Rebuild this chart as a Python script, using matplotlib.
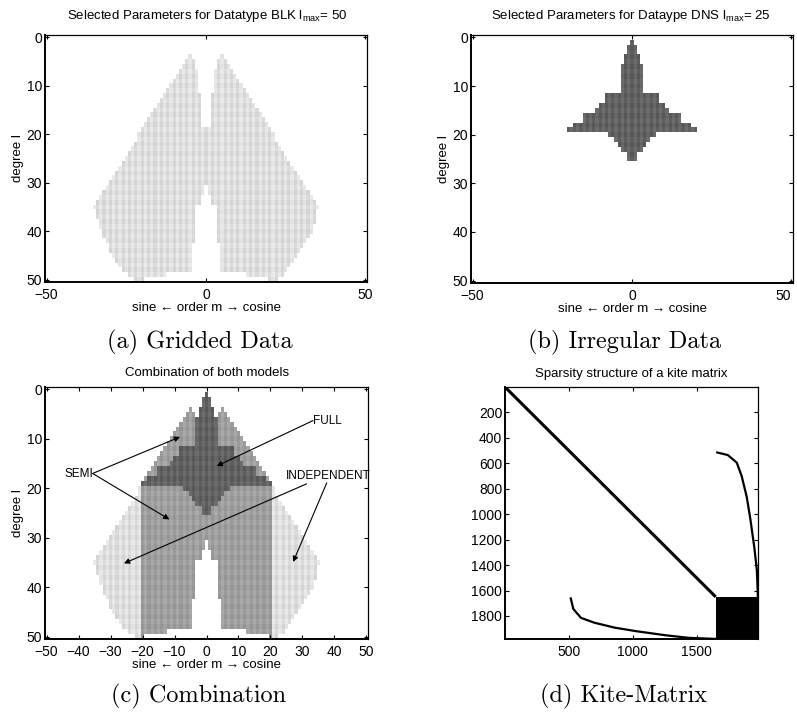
import numpy as np
import matplotlib
matplotlib.use("Agg")
import matplotlib.pyplot as plt

plt.rcParams['font.family'] = ['Liberation Sans', 'DejaVu Sans']
plt.rcParams['mathtext.fontset'] = 'custom'
plt.rcParams['mathtext.rm'] = 'Liberation Sans'
plt.rcParams['mathtext.it'] = 'Liberation Sans'

# ---------------- data ----------------
degrees = list(range(0, 51))
N = None
# BLK (gridded) selection, per degree l = 0..50 ; sine lobe [lo, hi], cosine lobe [lo, hi]
blk_sin_lo = [N, N, N, N, -5, -6, -7, -8, -9, -10, -11, -12, -13, -14, -15, -16, -17, -18, -19, -20,
              -21, -21, -22, -23, -24, -25, -26, -27, -28, -29, -30, -31, -32, -33, -34, -35,
              -34, -34, -33, -33, -32, -32, -31, -30, -30, -29, -28, -27, -26, -24, -22]
blk_sin_hi = [N, N, N, N, -5, -4, -4, -3, -3, -3, -3, -3, -2, -2, -2, -2, -2, -2, -2, -1,
              -1, -1, -1, -1, -1, -1, -1, -1, -1, -1, -1, -1, -1, -2, -2, -4,
              -4, -4, -4, -4, -4, -4, -4, -5, -5, -5, -5, -5, -5, -13, -20]
blk_cos_lo = [N, N, N, N, 5, 4, 4, 3, 3, 3, 3, 3, 2, 2, 2, 2, 2, 2, 2, 0,
              0, 0, 0, 0, 0, 0, 0, 0, 0, 0, 0, 1, 1, 2, 2, 4,
              4, 4, 4, 4, 4, 4, 4, 5, 5, 5, 5, 5, 5, 13, 20]
blk_cos_hi = [N, N, N, N, 5, 6, 7, 8, 9, 10, 11, 12, 13, 14, 15, 16, 17, 18, 19, 20,
              21, 21, 22, 23, 24, 25, 26, 27, 28, 29, 30, 31, 32, 33, 34, 35,
              34, 34, 34, 33, 33, 32, 31, 30, 29, 28, 27, 26, 25, 24, 22]
# DNS (irregular) selection: half width in order m per degree (-1 = none)
dns_halfwidth = [-1, 0, 1, 1, 2, 2, 3, 3, 3, 3, 3, 3, 8, 8, 10, 11, 15, 15, 18, 20,
                 7, 5, 4, 3, 1, 1] + [-1] * 25
semi_limit = 20          # |m| <= 20 -> semi, otherwise independent

# kite matrix
n_total = 1980
n_blk = 1650
curve_blk = [515, 535, 595, 700, 860, 1030, 1260, 1440, 1645]
curve_dns = [1662, 1745, 1815, 1853, 1892, 1920, 1952, 1972, 1980]

# ---------------- masks ----------------
orders = np.arange(-50, 51)
nl = len(degrees)
blk = np.zeros((nl, orders.size), bool)
dns = np.zeros((nl, orders.size), bool)
for l in degrees:
    if blk_sin_lo[l] is not None:
        blk[l] |= (orders >= blk_sin_lo[l]) & (orders <= blk_sin_hi[l])
        blk[l] |= (orders >= blk_cos_lo[l]) & (orders <= blk_cos_hi[l])
    if dns_halfwidth[l] >= 0:
        dns[l] |= np.abs(orders) <= dns_halfwidth[l]

MM, LL = np.meshgrid(orders, np.array(degrees))
plaid = 0.028 * ((MM % 2) - 0.5) * 2 + 0.012 * ((LL % 2) - 0.5) * 2


def rgba_image(levels):
    img = np.ones((nl, orders.size, 4))
    img[..., 3] = 0.0
    for mask, g in levels:
        v = np.clip(g + plaid, 0, 1)
        for c in range(3):
            img[..., c] = np.where(mask, v, img[..., c])
        img[..., 3] = np.where(mask, 1.0, img[..., 3])
    return img


LIGHT, MED, DARK = 0.875, 0.625, 0.385
img_a = rgba_image([(blk, LIGHT)])
img_b = rgba_image([(dns, DARK)])
indep = blk & (np.abs(MM) > semi_limit)
semi = blk & (np.abs(MM) <= semi_limit)
img_c = rgba_image([(indep, LIGHT), (semi, MED), (dns, DARK)])

# ---------------- figure ----------------
W, H = 797, 713
fig = plt.figure(figsize=(W / 100, H / 100), dpi=100)


def pax(x0, y0, x1, y1):
    return fig.add_axes([x0 / W, 1 - y1 / H, (x1 - x0) / W, (y1 - y0) / H])


def style(ax):
    ax.tick_params(direction='in', length=3, width=0.8, top=True, right=True,
                   labelsize=10, pad=2, colors='black')
    ax.tick_params(axis='x', pad=4)
    for s in ['left', 'bottom']:
        ax.spines[s].set_linewidth(1.4)
    for s in ['top', 'right']:
        ax.spines[s].set_linewidth(0.9)


def deg_panel(ax, img, xticks):
    ax.imshow(img, extent=[-50.5, 50.5, 50.5, -0.5], aspect='auto', interpolation='nearest')
    ax.set_xlim(-50.5, 50.5)
    ax.set_ylim(50.5, -0.5)
    ax.set_xticks(xticks)
    ax.set_yticks([0, 10, 20, 30, 40, 50])
    ax.set_xlabel('sine \u2190 order m \u2192 cosine', fontsize=9.5, labelpad=0)
    ax.set_ylabel('degree l', fontsize=9.5, labelpad=2)
    style(ax)


ax_a = pax(45, 35, 367, 282)
deg_panel(ax_a, img_a, [-50, 0, 50])
ax_b = pax(471, 35, 793, 283)
deg_panel(ax_b, img_b, [-50, 0, 50])
# right-most label of (b) sits at the figure edge: keep it fully visible
fig.canvas.draw()
ax_b.get_xticklabels()[-1].set_horizontalalignment('right')
ax_c = pax(45, 387, 368, 639)
deg_panel(ax_c, img_c, list(range(-50, 51, 10)))

# annotations in (c)
arw = dict(arrowstyle='-|>', color='black', lw=0.8, mutation_scale=8, shrinkA=0, shrinkB=0)
ax_c.text(33.4, 6.4, 'FULL', fontsize=8.5, va='center', ha='left')
ax_c.annotate('', xy=(3.2, 15.5), xytext=(33.3, 6.3), arrowprops=arw)
ax_c.text(-44.5, 17.1, 'SEMI', fontsize=8.5, va='center', ha='left')
ax_c.annotate('', xy=(-8.3, 9.6), xytext=(-35.6, 17.0), arrowprops=arw)
ax_c.annotate('', xy=(-11.6, 26.3), xytext=(-35.6, 17.0), arrowprops=arw)
ax_c.text(24.9, 17.5, 'INDEPENDENT', fontsize=8.5, va='center', ha='left')
ax_c.annotate('', xy=(-25.8, 35.2), xytext=(31.3, 19.1), arrowprops=arw)
ax_c.annotate('', xy=(27.1, 34.9), xytext=(37.6, 18.9), arrowprops=arw)

# (d) kite matrix
ax_d = pax(505, 387, 758, 639)
ax_d.plot([1, n_blk], [1, n_blk], color='black', lw=2.2, solid_capstyle='butt')
ax_d.fill_between([n_blk, n_total], [n_blk, n_blk], [n_total, n_total], color='black', lw=0)
ax_d.plot(curve_dns, curve_blk, color='black', lw=1.6)
ax_d.plot(curve_blk, curve_dns, color='black', lw=1.6)
ax_d.set_xlim(0, n_total + 1)
ax_d.set_ylim(n_total + 1, 0)
ax_d.set_xticks([500, 1000, 1500])
ax_d.set_yticks(list(range(200, 1801, 200)))
style(ax_d)

# titles
tkw = dict(fontsize=9.5, ha='center', va='baseline')
fig.text(207.5 / W, 1 - 18.5 / H,
         r'Selected Parameters for Datatype BLK l$_{\mathregular{max}}$= 50', **tkw)
fig.text(631 / W, 1 - 18.5 / H,
         r'Selected Parameters for Dataype DNS l$_{\mathregular{max}}$= 25', **tkw)
fig.text(206.7 / W, 1 - 375.7 / H, 'Combination of both models', **tkw)
fig.text(631.7 / W, 1 - 376.7 / H, 'Sparsity structure of a kite matrix', **tkw)

# captions
ckw = dict(fontsize=17.5, ha='center', va='baseline', family='cmr10')
fig.text(200 / W, 1 - 348 / H, '(a) Gridded Data', **ckw)
fig.text(625 / W, 1 - 348 / H, '(b) Irregular Data', **ckw)
fig.text(199 / W, 1 - 702.5 / H, '(c) Combination', **ckw)
fig.text(624 / W, 1 - 702.5 / H, '(d) Kite-Matrix', **ckw)

fig.savefig('out.png', dpi=100)
